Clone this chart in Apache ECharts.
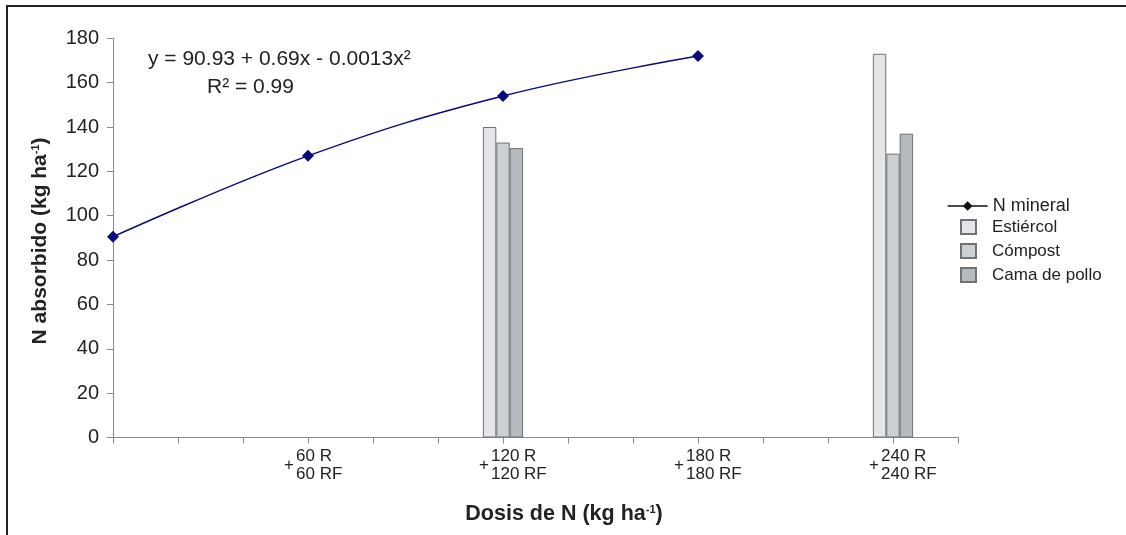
<!DOCTYPE html>
<html><head><meta charset="utf-8">
<script src="https://cdn.jsdelivr.net/npm/echarts@6/dist/echarts.min.js"></script>
<style>html,body{margin:0;padding:0;background:#fff}#c{width:1126px;height:535px}</style>
</head><body><div id="c"></div>
<script>
// Data
const doses = [0, 60, 120, 180];
const nMineral = [90.5, 127, 154, 172];
const barDoses = [120, 240];
const estiercol = [140, 173];
const compost = [133, 128];
const camaPollo = [130.5, 137];
const labelDoses = [60, 120, 180, 240];
const equation = 'y = 90.93 + 0.69x - 0.0013x²';
const r2 = 'R² = 0.99';

const FONT = 'Liberation Sans, Arial, sans-serif';
const chart = echarts.init(document.getElementById('c'));
const barCommon = {
  type: 'bar', barWidth: 13.4, barGap: '0%',
  itemStyle: { borderColor: '#6f7275', borderWidth: 1 }
};
chart.setOption({
  animation: false,
  backgroundColor: '#fff',
  textStyle: { fontFamily: FONT },
  grid: { left: 113, right: 168, top: 38.3, bottom: 97.5, containLabel: false },
  xAxis: [{
    type: 'value', min: 0, max: 260, interval: 20,
    axisLine: { lineStyle: { color: '#8a8a8a', width: 1 } },
    axisTick: { show: true, length: 6, lineStyle: { color: '#8a8a8a' } },
    splitLine: { show: false },
    axisLabel: {
      margin: 10, color: '#222', fontSize: 17, lineHeight: 18, align: 'left', padding: [0, 0, 0, -12],
      formatter: v => labelDoses.indexOf(v) >= 0 ? v + ' R\n' + v + ' RF' : ''
    },
    name: 'Dosis de N (kg ha{s|-1})', nameLocation: 'middle', nameGap: 66,
    nameTextStyle: { fontSize: 21.5, fontWeight: 'bold', color: '#222', padding: [0, 0, 0, 57],
      rich: { s: { fontSize: 11, fontWeight: 'bold', color: '#222', padding: [0, 0, 9, 0] } } }
  }, {
    type: 'value', min: 0, max: 260, interval: 20, position: 'bottom',
    axisLine: { show: false }, axisTick: { show: false }, splitLine: { show: false },
    axisLabel: { margin: 19, color: '#222', fontSize: 17, align: 'right', padding: [0, 14, 0, 0],
      formatter: v => labelDoses.indexOf(v) >= 0 ? '+' : '' }
  }],
  yAxis: {
    type: 'value', min: 0, max: 180, interval: 20,
    axisLine: { show: true, lineStyle: { color: '#8a8a8a' } },
    axisTick: { show: true, length: 6, lineStyle: { color: '#8a8a8a' } },
    splitLine: { show: false },
    axisLabel: { color: '#222', fontSize: 20, margin: 14 },
    name: 'N absorbido (kg ha{s|-1})', nameLocation: 'middle', nameGap: 62, nameRotate: 90,
    nameTextStyle: { fontSize: 21, fontWeight: 'bold', color: '#222', padding: [0, 6, 0, 0],
      rich: { s: { fontSize: 11, fontWeight: 'bold', color: '#222', padding: [0, 0, 9, 0] } } }
  },
  legend: [{
    orient: 'vertical', left: 942, top: 191, itemWidth: 40, itemHeight: 12,
    textStyle: { fontSize: 18, lineHeight: 20, color: '#222', fontFamily: FONT },
    data: [
      { name: 'N mineral', itemStyle: { color: '#111' }, lineStyle: { color: '#111', width: 1.3 } }
    ]
  }, {
    orient: 'vertical', left: 955, top: 212, itemGap: 4, itemWidth: 15, itemHeight: 14,
    textStyle: { fontSize: 17, lineHeight: 20, color: '#222', fontFamily: FONT, padding: [0, 0, 0, 11] },
    data: [
      { name: 'Estiércol', icon: 'rect' },
      { name: 'Cómpost', icon: 'rect' },
      { name: 'Cama de pollo', icon: 'rect' }
    ]
  }],
  series: [
    Object.assign({}, barCommon, { name: 'Estiércol', data: barDoses.map((d, i) => [d, estiercol[i]]),
      itemStyle: Object.assign({}, barCommon.itemStyle, { color: '#e3e5e8' }) }),
    Object.assign({}, barCommon, { name: 'Cómpost', data: barDoses.map((d, i) => [d, compost[i]]),
      itemStyle: Object.assign({}, barCommon.itemStyle, { color: '#cdd0d3' }) }),
    Object.assign({}, barCommon, { name: 'Cama de pollo', data: barDoses.map((d, i) => [d, camaPollo[i]]),
      itemStyle: Object.assign({}, barCommon.itemStyle, { color: '#b7babd' }) }),
    {
      name: 'N mineral', type: 'line', smooth: 0.4,
      data: doses.map((d, i) => [d, nMineral[i]]),
      symbol: 'diamond', symbolSize: 12,
      lineStyle: { color: '#0a0a80', width: 1.5 },
      itemStyle: { color: '#0a0a80' }, z: 5
    }
  ],
  graphic: [
    { type: 'text', left: 148, top: 49, style: { text: equation, fontSize: 21, fill: '#222', fontFamily: FONT } },
    { type: 'text', left: 207, top: 77, style: { text: r2, fontSize: 21, fill: '#222', fontFamily: FONT } },
    { type: 'line', shape: { x1: 6, y1: 6, x2: 1126, y2: 6 }, style: { stroke: '#222', lineWidth: 2 } },
    { type: 'line', shape: { x1: 7, y1: 5, x2: 7, y2: 535 }, style: { stroke: '#222', lineWidth: 2 } }
  ]
});
</script></body></html>
